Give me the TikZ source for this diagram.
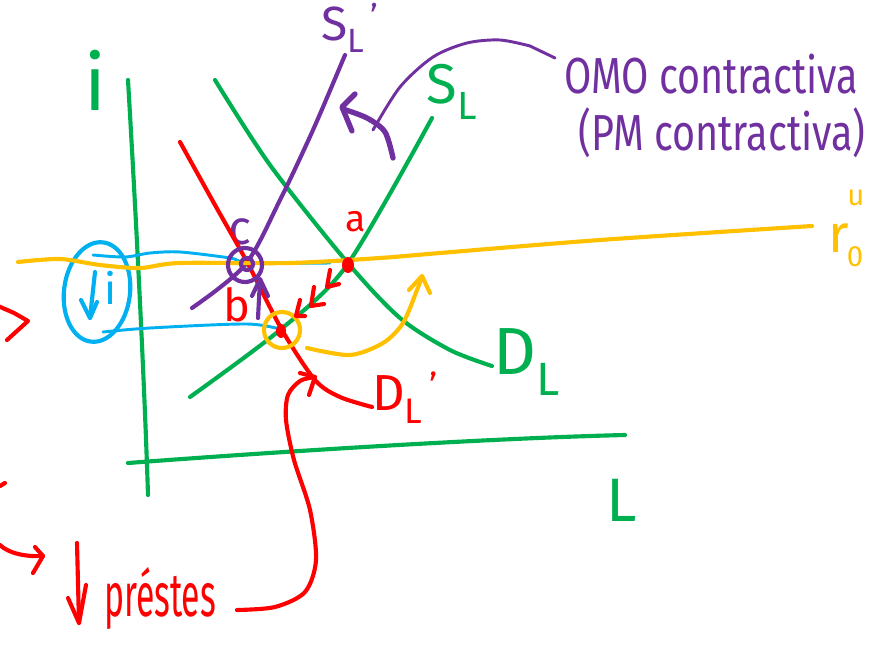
\documentclass[tikz,border=0pt]{standalone}
\usepackage{fontspec}
\setmainfont{Fira Sans}
\definecolor{ig}{HTML}{00B050}
\definecolor{ir}{HTML}{FF0000}
\definecolor{ip}{HTML}{7030A0}
\definecolor{iy}{HTML}{FFC000}
\definecolor{ib}{HTML}{00B0F0}
\begin{document}
\begin{tikzpicture}[x=0.75pt,y=-0.75pt,
  ink/.style={line width=3.1pt,line cap=round,line join=round},
  fineink/.style={line width=2.2pt,line cap=round,line join=round},
  thickink/.style={line width=4pt,line cap=round,line join=round},
  lbl/.style={inner sep=0pt,outer sep=0pt,anchor=center}]
\useasboundingbox (0,0) rectangle (888,663);

% ---- labels ----
\node[lbl,text=ig,font=\fontsize{58}{58}\selectfont] (ilab) at (95,80) {i};
\node[lbl,text=ig,font=\fontsize{46}{46}\selectfont] (Llab) at (622,500) {L};
\node[lbl,text=ig,font=\fontsize{42}{42}\selectfont] (SL) at (452,92) {S\textsubscript{L}};
\node[lbl,text=ip,font=\fontsize{36}{36}\selectfont] (SLp) at (350,28) {S\textsubscript{L}\textsuperscript{\,'}};
\node[lbl,text=ig,font=\fontsize{50}{50}\selectfont] (DL) at (527,362) {D\textsubscript{L}};
\node[lbl,text=ir,font=\fontsize{38}{38}\selectfont] (DLp) at (405,398) {D\textsubscript{L}\textsuperscript{\,'}};
\node[lbl,text=ip,font=\fontsize{38}{38}\selectfont] (omo) at (711,74) {\scalebox{0.78}[1]{OMO contractiva}};
\node[lbl,text=ip,font=\fontsize{38}{38}\selectfont] (pm) at (722,133) {\scalebox{0.78}[1]{(PM contractiva)}};
\node[lbl,text=iy,font=\fontsize{40}{40}\selectfont,anchor=base west] (r0) at (828,252) {r};
\node[lbl,text=iy,font=\fontsize{22}{22}\selectfont] (r0sup) at (856,198) {u};
\node[lbl,text=iy,font=\fontsize{22}{22}\selectfont] (r0sub) at (855,257) {0};
\node[lbl,text=ip,font=\fontsize{36}{36}\selectfont] (clab) at (240,232) {c};
\node[lbl,text=ir,font=\fontsize{28}{28}\selectfont] (alab) at (356,222) {a};
\node[lbl,text=ir,font=\fontsize{34}{34}\selectfont] (blab) at (237,305) {b};
\node[lbl,text=ib,font=\fontsize{32}{32}\selectfont] (ilow) at (111,288) {i};
\node[lbl,text=ir,font=\fontsize{46}{46}\selectfont,anchor=west] (prest) at (104,598) {\scalebox{0.55}[1]{préstes}};

% ---- axes ----
\draw[ink,ig] (128,80) .. controls (138,250) and (145,400) .. (148,495);
\draw[ink,ig] (128,463) .. controls (300,450) and (500,438) .. (625,435);

% ---- curves ----
\draw[ink,ig] plot[smooth] coordinates {(190,397) (280,330) (347,265) (432,118)};
\draw[ink,ig] plot[smooth] coordinates {(215,80) (270,165) (347,262) (400,318) (450,350) (492,366)};
\draw[ink,ip] plot[smooth] coordinates {(192,308) (245,265) (280,200) (313,130) (345,55)};
\draw[ink,ir] plot[smooth] coordinates {(180,142) (215,205) (247,262) (282,330) (315,380) (340,397) (372,407)};

% blue lines and ellipse
\draw[fineink,ib] plot[smooth] coordinates {(93,255) (125,257) (150,253) (180,252) (230,258) (250,263) (330,263)};
\draw[fineink,ib] plot[smooth] coordinates {(103,332) (150,328) (247,324) (283,330)};
\draw[ink,ib,rotate around={-7:(97,292)}] (97,292) ellipse [x radius=33, y radius=50];
\draw[ink,ib] (95,272) -- (90,318);
\draw[ink,ib] (81,300) -- (90,318) -- (97,302);

% yellow line
\draw[ink,iy] plot[smooth] coordinates {(18,262) (60,259) (100,265) (140,268) (180,263) (290,263) (380,258) (440,253) (600,240) (812,226)};

% yellow circle and arrow
\draw[ink,iy] (282,330) circle [radius=18];
\draw[ink,iy] plot[smooth] coordinates {(307,348) (350,355) (383,343) (403,323) (417,290) (422,277)};
\draw[ink,iy] (409,290) -- (422,276) -- (430,293);

% purple circles at c and small arrow
\draw[ink,ip] (245,265) circle [radius=17];
\draw[ink,ip] (247,264) circle [radius=6];
\draw[ink,ip] (258,318) -- (260,280);
\draw[ink,ip] (252,296) -- (260,279) -- (268,296);

% red dots
\fill[ir] (348,265) ellipse [x radius=6, y radius=8];
\fill[ir] (281,331) ellipse [x radius=5, y radius=7];

% red chevrons along S_L
\draw[ink,ir] (330,270) -- (327,287) -- (339,284);
\draw[ink,ir] (314,287) -- (311,306) -- (324,304);
\draw[ink,ir] (300,300) -- (296,316) -- (305,316);

% purple arrow from text
\coordinate (omoend) at (555,58);
\draw[fineink,ip] plot[smooth] coordinates {(373,130) (400,87) (433,57) (467,43) (500,40) (530,46)} -- (omoend);
\draw[thickink,ip] plot[smooth] coordinates {(393,158) (385,132) (367,118) (343,109)};
\draw[thickink,ip] (355,94) -- (342,107) -- (352,131);

% red arrow from bottom text
\coordinate (redstart) at (237,610);
\draw[ink,ir] plot[smooth] coordinates {(237,610) (275,607) (305,592) (316,560) (310,510) (294,460) (286,420) (288,395) (300,381) (315,377)};
\draw[ink,ir] (300,373) -- (315,377) -- (309,395);

% red down arrow before text
\draw[ink,ir] (77,543) -- (79,623);
\draw[ink,ir] (68,598) -- (79,623) -- (86,585);

% red left edge marks
\draw[ink,ir] (-2,306) -- (14,313) -- (28,321) -- (7,340);
\draw[ink,ir] (0,486) -- (5,483);
\draw[ink,ir] (0,545) .. controls (8,553) and (25,557) .. (43,556);
\draw[ink,ir] (35,547) -- (43,556) -- (33,573);
\end{tikzpicture}
\end{document}
